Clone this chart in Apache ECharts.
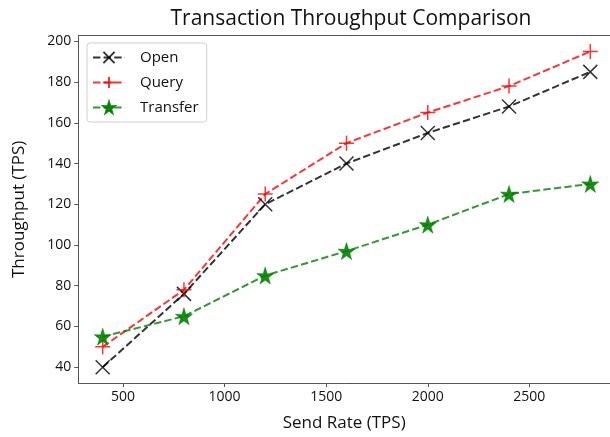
<!DOCTYPE html>
<html>
<head>
<meta charset="utf-8">
<script src="https://cdn.jsdelivr.net/npm/echarts@6/dist/echarts.min.js"></script>
<style>html,body{margin:0;padding:0;background:#fff}#c{width:610px;height:437px}</style>
</head>
<body>
<div id="c"></div>
<script>
var sendRates = [400, 800, 1200, 1600, 2000, 2400, 2800];
var openVals = [40, 76, 120, 140, 155, 168, 185];
var queryVals = [50, 78, 125, 150, 165, 178, 195];
var transferVals = [55, 65, 85, 97, 110, 125, 130];
var xTicks = [500, 1000, 1500, 2000, 2500];
var yTicks = [40, 60, 80, 100, 120, 140, 160, 180, 200];

var FONT = 'Open Sans';
function pairs(xs, ys) { return xs.map(function (x, i) { return [x, ys[i]]; }); }
var X_PATH = 'path://M0,0L10,10M10,0L0,10';
var PLUS_PATH = 'path://M5,0L5,10M0,5L10,5';
var STAR_PATH = 'path://M50,0L61.8,35.3L98.1,34.5L69.1,57.3L79.4,90.5L50,70L20.6,90.5L30.9,57.3L1.9,34.5L38.2,35.3Z';

function mk(name, vals, color, symbol, size, stroke) {
  return {
    name: name, type: 'line', data: pairs(sendRates, vals),
    symbol: symbol, symbolSize: size, showSymbol: true,
    lineStyle: { color: color, width: 2, type: [7.4, 3.2], opacity: 0.8 },
    itemStyle: stroke ? { color: color, borderColor: color, borderWidth: 1.5, opacity: 0.8 }
                      : { color: color, borderColor: color, borderWidth: 0.5, opacity: 0.9 },
    emphasis: { disabled: true },
    animation: false
  };
}

var chart = echarts.init(document.getElementById('c'), null, { renderer: 'canvas' });
chart.setOption({
  animation: false,
  textStyle: { fontFamily: FONT },
  title: {
    text: 'Transaction Throughput Comparison', left: 346, textAlign: 'center', top: 4,
    textStyle: { fontFamily: FONT, fontSize: 21, fontWeight: 'normal', color: '#111' }
  },
  legend: {
    orient: 'vertical', left: 87, top: 43,
    itemWidth: 32, itemHeight: 14, itemGap: 10,
    padding: [7, 8, 7, 5],
    borderColor: '#d0d0d0', borderWidth: 1, borderRadius: 3,
    backgroundColor: 'rgba(255,255,255,0.8)',
    textStyle: { fontFamily: FONT, fontSize: 15, color: '#111', padding: [0, 0, 0, 10] },
    data: ['Open', 'Query', 'Transfer']
  },
  grid: {
    left: 78.3, right: 0, top: 35.7, bottom: 53.7,
    show: false
  },
  xAxis: [{
    type: 'value', min: 280, max: 2897,
    name: 'Send Rate (TPS)', nameLocation: 'middle', nameGap: 32,
    nameTextStyle: { fontFamily: FONT, fontSize: 17, color: '#111' },
    axisLine: { show: true, lineStyle: { color: '#555', width: 1 } },
    axisTick: { show: true, customValues: xTicks, length: 4, lineStyle: { color: '#555' } },
    axisLabel: { customValues: xTicks, fontFamily: FONT, fontSize: 14, color: '#111', margin: 7,
      formatter: function (v) { return String(v); } },
    splitLine: { show: false }
  }, {
    type: 'value', min: 280, max: 2897, position: 'top',
    axisLine: { show: true, lineStyle: { color: '#555', width: 1 } },
    axisTick: { show: false }, axisLabel: { show: false }, splitLine: { show: false }
  }],
  yAxis: {
    type: 'value', min: 32.25, max: 202.75,
    name: 'Throughput (TPS)', nameLocation: 'middle', nameGap: 51,
    nameTextStyle: { fontFamily: FONT, fontSize: 17, color: '#111' },
    axisLine: { show: true, lineStyle: { color: '#555', width: 1 } },
    axisTick: { show: true, customValues: yTicks, length: 4, lineStyle: { color: '#555' } },
    axisLabel: { customValues: yTicks, fontFamily: FONT, fontSize: 14, color: '#111', margin: 7 },
    splitLine: { show: false }
  },
  series: [
    mk('Open', openVals, '#000000', X_PATH, 14, true),
    mk('Query', queryVals, '#ff0000', PLUS_PATH, 15, true),
    mk('Transfer', transferVals, '#008000', STAR_PATH, 17, false)
  ]
});
</script>
</body>
</html>
